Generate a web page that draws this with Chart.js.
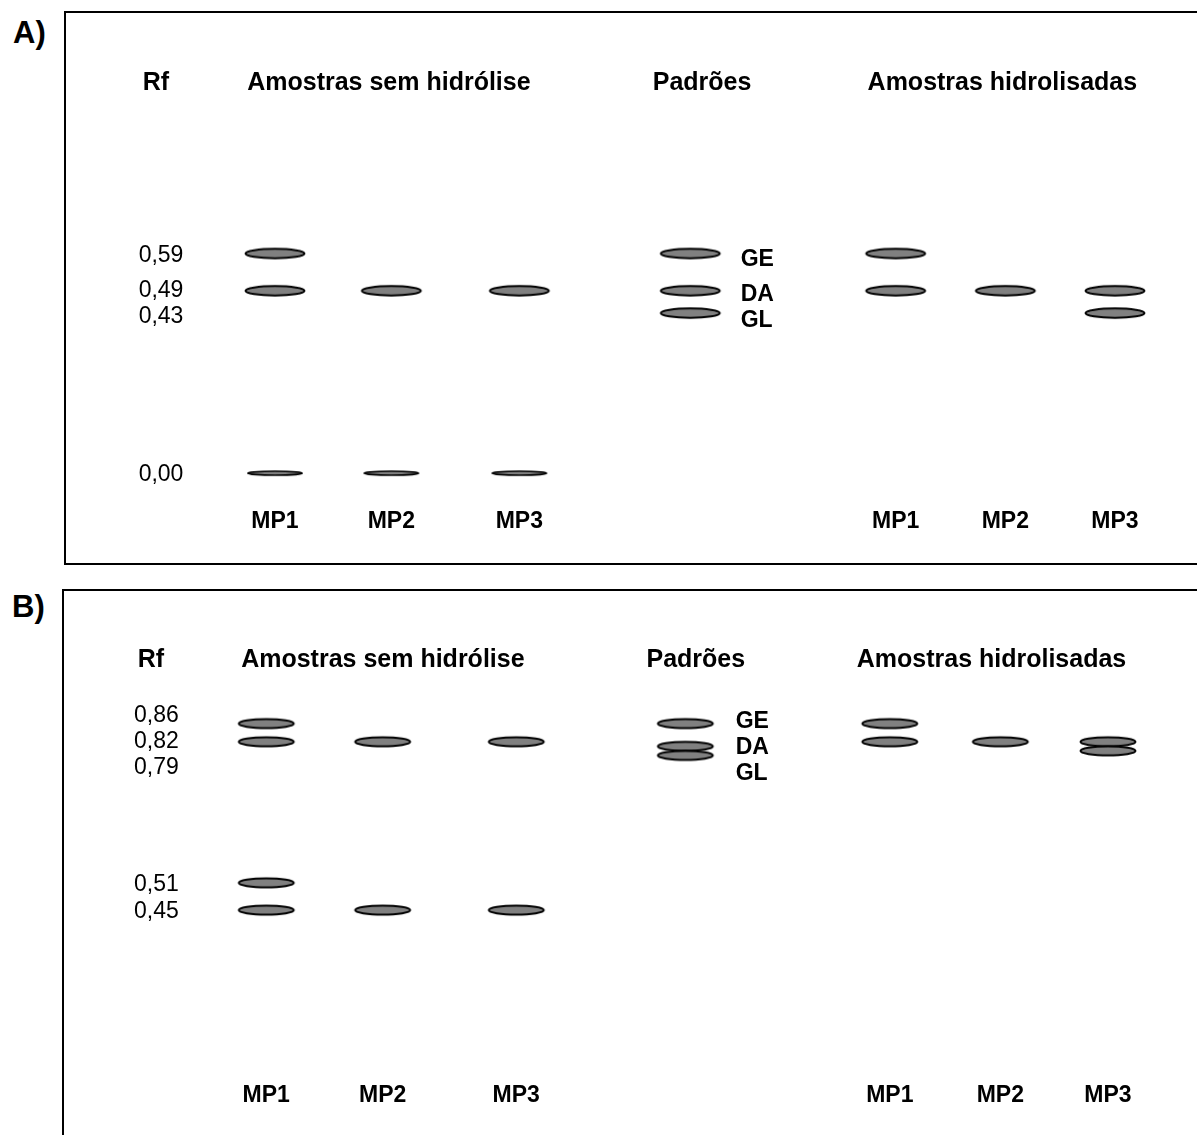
<!DOCTYPE html>
<html>
<head>
<meta charset="utf-8">
<script src="https://cdn.jsdelivr.net/npm/chart.js@4.4.1/dist/chart.umd.min.js"></script>
<style>
  html, body { margin: 0; padding: 0; background: #fff; }
  body { width: 1197px; height: 1135px; overflow: hidden; position: relative;
         font-family: "Liberation Sans", Arial, Helvetica, sans-serif; }
  .tag { position: absolute; font-weight: bold; font-size: 31px; line-height: 1; color: #000; }
  .panel { position: absolute; border: 2px solid #000; }
  .panel canvas { display: block; }
</style>
</head>
<body>
<div class="tag" style="left:13px; top:17px;">A)</div>
<div class="panel" style="left:64px; top:11px; width:1140px; height:550px;">
  <canvas id="chartA" width="1131" height="550" style="width:1131px;height:550px;"></canvas>
</div>
<div class="tag" style="left:12px; top:591px;">B)</div>
<div class="panel" style="left:62px; top:589px; width:1145px; height:560px;">
  <canvas id="chartB" width="1133" height="544" style="width:1133px;height:544px;"></canvas>
</div>

<script>
// ---- Data: Rf values of the spots on each plate ----
const groupTitles = ['Amostras sem hidrólise', 'Padrões', 'Amostras hidrolisadas'];
const sampleNames = ['MP1', 'MP2', 'MP3'];
const standardNames = ['GE', 'DA', 'GL'];

// Plate A
const rfTicksA = [0.59, 0.49, 0.43, 0.00];
const unhydrolysedA = [[0.59, 0.49, 0.00], [0.49, 0.00], [0.49, 0.00]];
const standardsA = [0.59, 0.49, 0.43];
const hydrolysedA = [[0.59, 0.49], [0.49], [0.49, 0.43]];

// Plate B
const rfTicksB = [0.86, 0.82, 0.79, 0.51, 0.45];
const unhydrolysedB = [[0.86, 0.82, 0.51, 0.45], [0.82, 0.45], [0.82, 0.45]];
const standardsB = [0.86, 0.81, 0.79];
const hydrolysedB = [[0.86, 0.82], [0.82], [0.82, 0.80]];

// ---- Layout (x in 0-100 plate-width units, text offsets in px from the plate top) ----
const layoutA = {
  laneX: [18.08, 28.50, 39.96, 55.26, 73.65, 83.47, 93.28],
  tickX: 7.88, rfX: 7.43, headerX: [28.28, 56.32, 83.20], standardLabelX: 59.77,
  headerY: 61.3, laneLabelY: 499.3, yMin: -0.2225, yMax: 1.2173,
  spot: [59, 9.3], originSpot: [54.5, 4]
};
const layoutB = {
  laneX: [17.45, 27.85, 39.79, 54.90, 73.17, 83.05, 92.67],
  tickX: 7.63, rfX: 7.15, headerX: [27.87, 55.84, 82.26], standardLabelX: 59.40,
  headerY: 59.8, laneLabelY: 496.2, yMin: -0.0289, yMax: 1.1360,
  spot: [55, 9], originSpot: [54.5, 4]
};

const FONT = '"Liberation Sans", Arial, Helvetica, sans-serif';

function formatRf(v) { return v.toFixed(2).replace('.', ','); }

// Grey spot with a dark outline, used as the point marker
function makeSpot(w, h, lw) {
  const c = document.createElement('canvas');
  c.width = Math.ceil(w + lw * 2 + 2);
  c.height = Math.ceil(h + lw * 2 + 2);
  if (c.width % 2) c.width += 1;
  if (c.height % 2) c.height += 1;
  const g = c.getContext('2d');
  g.beginPath();
  g.ellipse(c.width / 2, c.height / 2, w / 2, h / 2, 0, 0, Math.PI * 2);
  g.fillStyle = '#808080';
  g.fill();
  g.lineWidth = lw;
  g.strokeStyle = '#000';
  g.stroke();
  return c;
}

// Push overlapping labels apart, keeping each cluster centred on its spots
function spreadLabels(items, gap) {
  items.sort((a, b) => a.y - b.y);
  let clusters = items.map(it => ({ members: [it], centre: it.y }));
  let merged = true;
  while (merged) {
    merged = false;
    for (let i = 0; i < clusters.length - 1; i++) {
      const a = clusters[i], b = clusters[i + 1];
      const aEnd = a.centre + (a.members.length - 1) * gap / 2;
      const bStart = b.centre - (b.members.length - 1) * gap / 2;
      if (bStart - aEnd < gap) {
        const members = a.members.concat(b.members);
        const centre = members.reduce((s, m) => s + m.y, 0) / members.length;
        clusters.splice(i, 2, { members, centre });
        merged = true;
        break;
      }
    }
  }
  clusters.forEach(c => c.members.forEach((m, k) => {
    m.drawY = c.centre + (k - (c.members.length - 1) / 2) * gap;
  }));
  return items;
}

// Text drawn so that its capital letters are centred on yMid
function drawText(ctx, text, x, yMid, size, bold, align) {
  ctx.font = (bold ? 'bold ' : '') + size + 'px ' + FONT;
  ctx.textAlign = align;
  ctx.textBaseline = 'alphabetic';
  ctx.fillText(text, x, yMid + size * 0.358);
}

const plateLabels = {
  id: 'plateLabels',
  afterDatasetsDraw(chart, args, o) {
    const { ctx, chartArea, scales: { x, y } } = chart;
    ctx.save();
    ctx.fillStyle = '#000';
    // Column headers
    drawText(ctx, 'Rf', x.getPixelForValue(o.rfX), chartArea.top + o.headerY, 25, true, 'center');
    groupTitles.forEach((t, i) =>
      drawText(ctx, t, x.getPixelForValue(o.headerX[i]), chartArea.top + o.headerY, 25, true, 'center'));
    // Rf values on the left
    spreadLabels(o.ticks.map(v => ({ v, y: y.getPixelForValue(v) })), 26)
      .forEach(t => drawText(ctx, formatRf(t.v), x.getPixelForValue(o.tickX), t.drawY, 23, false, 'center'));
    // Sample names under the lanes
    const sampleLanes = [0, 1, 2, 4, 5, 6];
    sampleLanes.forEach((lane, k) =>
      drawText(ctx, sampleNames[k % 3], x.getPixelForValue(o.laneX[lane]), chartArea.top + o.laneLabelY, 23, true, 'center'));
    // Standard names beside their spots
    spreadLabels(o.standards.map((v, i) => ({ name: standardNames[i], y: y.getPixelForValue(v) })), 26)
      .forEach(t => drawText(ctx, t.name, x.getPixelForValue(o.standardLabelX), t.drawY + 4, 23, true, 'left'));
    ctx.restore();
  }
};

function buildPlate(canvasId, unhydrolysed, standards, hydrolysed, ticks, L) {
  const lanes = [...unhydrolysed, standards, ...hydrolysed];
  const spots = [];
  lanes.forEach((rfs, i) => rfs.forEach(rf => spots.push({ x: L.laneX[i], y: rf })));
  const spot = makeSpot(L.spot[0], L.spot[1], 2);
  const originSpot = makeSpot(L.originSpot[0], L.originSpot[1], 1.7);
  return new Chart(document.getElementById(canvasId), {
    type: 'scatter',
    data: {
      datasets: [{
        data: spots,
        pointStyle: c => (c.raw && c.raw.y === 0) ? originSpot : spot,
        pointRadius: 6,
        showLine: false
      }]
    },
    options: {
      responsive: false,
      animation: false,
      events: [],
      layout: { padding: 0 },
      plugins: {
        legend: { display: false },
        tooltip: { enabled: false },
        plateLabels: Object.assign({ ticks, standards }, L)
      },
      scales: {
        x: { type: 'linear', display: false, min: 0, max: 100 },
        y: { type: 'linear', display: false, min: L.yMin, max: L.yMax }
      }
    },
    plugins: [plateLabels]
  });
}

buildPlate('chartA', unhydrolysedA, standardsA, hydrolysedA, rfTicksA, layoutA);
buildPlate('chartB', unhydrolysedB, standardsB, hydrolysedB, rfTicksB, layoutB);
</script>
</body>
</html>
